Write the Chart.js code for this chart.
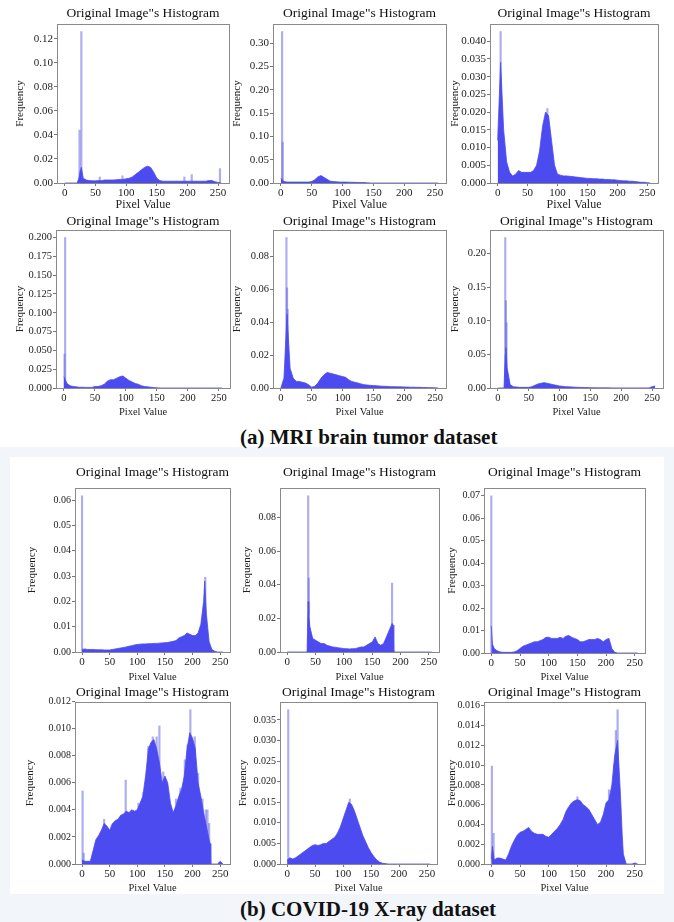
<!DOCTYPE html>
<html>
<head>
<meta charset="utf-8">
<script src="https://cdn.jsdelivr.net/npm/chart.js@4.4.1/dist/chart.umd.min.js"></script>
<style>
  body { margin: 0; width: 674px; height: 922px; position: relative; background: #fff; overflow: hidden;
         font-family: "Liberation Serif", "Times New Roman", serif; }
  canvas { position: absolute; }
  .cap { position: absolute; left: 240px; font-weight: bold; font-size: 21px; line-height: 24px; color: #111; white-space: nowrap; }
  #bgB { position: absolute; left: 0; top: 447px; width: 674px; height: 475px; background: #f2f5fa; }
  #inB { position: absolute; left: 10px; top: 457px; width: 654px; height: 437px; background: #fff; }
</style>
</head>
<body>
<div id="bgB"></div>
<div id="inB"></div>
<div class="cap" style="top:425px">(a) MRI brain tumor dataset</div>
<div class="cap" style="top:897px">(b) COVID-19 X-ray dataset</div>

<script>
// histogram bins (pixel value), read every 5 levels
const pixelBins = [0,5,10,15,20,25,30,35,40,45,50,55,60,65,70,75,80,85,90,95,
  100,105,110,115,120,125,130,135,140,145,150,155,160,165,170,175,180,185,190,195,
  200,205,210,215,220,225,230,235,240,245,250,255];
const xTicks = [0, 50, 100, 150, 200, 250];

// ---- (a) MRI brain tumor ----
const mri1Freq = [0,0,0,0,0,.010,.004,.0025,.002,.0018,
  .0018,.002,.002,.0025,.0025,.0025,.0025,.0028,.003,.003,
  .0035,.004,.005,.007,.009,.011,.013,.014,.013,.009,
  .004,.002,.0015,.0015,.0015,.0015,.0015,.0015,.0015,.0015,
  .0015,.0015,.0015,.0015,.0015,.0015,.0015,.002,.002,.001,.0005,0];
const mri1Extra = [[21,0],[23,.004],[27,.013]];
const mri1Spikes = [[24,.044],[27,.126],[57,.005],[94,.006],[195,.005],[207,.007],[253,.012]];
const mri1Ticks = ['0.00','0.02','0.04','0.06','0.08','0.10','0.12'];

const mri2Freq = [.010,.003,.002,.002,.002,.002,.002,.002,.002,.002,
  .003,.007,.013,.016,.012,.008,.004,.003,.0025,.002,
  .002,.002,.0018,.0015,.0015,.0012,.001,.001,.0005,0,
  0,0,0,0,0,0,0,0,0,0,0,0,0,0,0,0,0,0,0,0,0,0];
const mri2Extra = [];
const mri2Spikes = [[2,.325],[3,.088]];
const mri2Ticks = ['0.00','0.05','0.10','0.15','0.20','0.25','0.30'];

const mri3Freq = [.012,.034,.015,.006,.003,.002,.0025,.0035,.003,.003,
  .003,.003,.0035,.005,.009,.016,.020,.019,.012,.005,
  .0025,.0022,.002,.002,.0019,.0018,.0017,.0016,.0015,.0014,
  .0013,.0013,.0012,.0012,.0011,.0011,.001,.001,.0009,.0009,
  .0008,.0007,.0006,.0006,.0005,.0005,.0004,.0003,.0002,.0002,.0001,0];
const mri3Extra = [];
const mri3Spikes = [[5,.0427],[83,.021]];
const mri3Ticks = ['0.000','0.005','0.010','0.015','0.020','0.025','0.030','0.035','0.040'];

const mri4Freq = [.015,.006,.003,.002,.0015,.001,.001,.0008,.0008,.0008,
  .002,.002,.003,.005,.009,.011,.011,.013,.015,.016,
  .013,.010,.008,.006,.005,.003,.002,.0015,.001,.0005,
  .0002,0,0,0,0,0,0,0,0,0,0,0,0,0,0,0,0,0,0,0,0,0];
const mri4Extra = [];
const mri4Spikes = [[1,.045],[2,.2]];
const mri4Ticks = ['0.000','0.025','0.050','0.075','0.100','0.125','0.150','0.175','0.200'];

const mri5Freq = [0,.006,.045,.012,.006,.004,.004,.0035,.003,.002,
  .0005,.001,.003,.006,.008,.0095,.009,.0085,.008,.0075,
  .007,.0065,.005,.004,.0035,.003,.0025,.002,.0018,.0016,
  .0015,.0014,.0012,.0011,.001,.0009,.0008,.0008,.0007,.0007,
  .0006,.0006,.0005,.0005,.0004,.0004,.0003,.0003,.0002,.0002,.0001,0];
const mri5Extra = [];
const mri5Spikes = [[9,.0917],[10,.061],[11,.048]];
const mri5Ticks = ['0.00','0.02','0.04','0.06','0.08'];

const mri6Freq = [0,0,0,.03,.005,.002,.0015,.001,.001,.001,
  .001,.002,.004,.006,.007,.008,.007,.006,.005,.004,
  .003,.0025,.002,.0018,.0015,.0012,.001,.0009,.0008,.0006,
  .0005,.0004,.0003,.0003,.0002,.0002,.0002,.0001,.0001,.0001,
  .0001,.0001,.0001,.0001,.0001,.0001,.0001,.0001,.0001,.0001,.002,.003];
const mri6Extra = [[11,0],[12,.05],[13,.06]];
const mri6Spikes = [[12,.224],[13,.13],[14,.097]];
const mri6Ticks = ['0.00','0.05','0.10','0.15','0.20'];

// ---- (b) COVID-19 X-ray ----
const covid1Freq = [.001,.0012,.001,.001,.001,.0009,.0009,.0009,.0008,.0008,
  .0008,.001,.0012,.0014,.0016,.0018,.002,.0023,.0025,.0028,
  .003,.0031,.0032,.0032,.0033,.0033,.0034,.0034,.0035,.0036,
  .0037,.0038,.004,.0042,.0045,.0055,.006,.0065,.0075,.007,
  .0065,.0065,.0075,.011,.020,.015,.004,.001,.0003,0,0,0];
const covid1Extra = [[222,.028]];
const covid1Spikes = [[0,.0617],[223,.0295]];
const covid1Ticks = ['0.00','0.01','0.02','0.03','0.04','0.05','0.06'];

const covid2Freq = [0,0,0,0,0,0,0,0,.015,.008,
  .007,.006,.005,.005,.004,.0035,.003,.0028,.0025,.0023,
  .002,.002,.0018,.002,.002,.0025,.003,.003,.004,.005,
  .006,.009,.005,.004,.005,.009,.013,.017,0,0,
  0,0,0,0,0,0,0,0,0,0,0,0];
const covid2Extra = [[36,0],[37,.03],[38,.022],[187,.016],[188,0]];
const covid2Spikes = [[37,.093],[38,.044],[185,.041]];
const covid2Ticks = ['0.00','0.02','0.04','0.06','0.08'];

const covid3Freq = [.012,.002,.001,.0005,.0003,.0003,.0003,.0003,.0005,.001,
  .002,.003,.0035,.004,.0045,.005,.005,.0055,.006,.007,
  .007,.0065,.0065,.0065,.007,.0065,.0075,.0078,.007,.0065,
  .006,.005,.005,.0055,.006,.006,.006,.0065,.006,.005,
  .006,.0065,.002,.0003,0,0,0,0,0,0,0,0];
const covid3Extra = [[2,.004]];
const covid3Spikes = [[0,.070]];
const covid3Ticks = ['0.00','0.01','0.02','0.03','0.04','0.05','0.06','0.07'];

const covid4Freq = [.0003,.0002,.0002,.0002,.001,.0018,.0021,.0025,.003,.0028,
  .0025,.003,.0032,.0033,.0036,.0037,.0039,.0038,.004,.0039,
  .004,.0045,.005,.0065,.0085,.009,.0092,.0085,.0075,.006,
  .0065,.006,.0045,.0038,.0043,.005,.0055,.0065,.0085,.0097,
  .0093,.0085,.006,.005,.0038,.0028,.0018,0,0,0,.0002,0];
const covid4Extra = [[232,.0015],[233,0]];
const covid4Spikes = [[1,.0054],[3,.0008],[40,.0033],[79,.0062],[102,.0045],[111,.0053],[120,.0087],
  [128,.0094],[135,.0094],[140,.0102],[147,.0068],[157,.0047],[170,.0048],[178,.0056],[186,.0077],
  [191,.0088],[196,.0114],[204,.0094],[210,.0067],[218,.0048],[224,.004],[227,.004],[230,.003]];
const covid4Ticks = ['0.000','0.002','0.004','0.006','0.008','0.010','0.012'];

const covid5Freq = [.001,.0015,.0012,.0015,.002,.0025,.003,.0035,.004,.0045,
  .0047,.0045,.0047,.005,.005,.0055,.006,.0065,.0075,.009,
  .011,.013,.015,.0145,.013,.011,.009,.007,.0055,.004,
  .0028,.0018,.001,.0005,.0002,.0001,0,0,0,0,
  0,0,0,0,0,0,0,0,0,0,0,0];
const covid5Extra = [];
const covid5Spikes = [[2,.0375],[112,.0158]];
const covid5Ticks = ['0.000','0.005','0.010','0.015','0.020','0.025','0.030','0.035'];

const covid6Freq = [.0005,.0004,.0006,.0006,.0005,.0004,.001,.0018,.0024,.0029,
  .0032,.0033,.0035,.0037,.0033,.0031,.003,.003,.003,.0028,
  .0027,.003,.0033,.0036,.004,.0045,.0053,.0058,.0062,.0064,
  .0065,.0064,.006,.0058,.0055,.005,.0045,.004,.0042,.005,
  .0062,.0065,.008,.011,.0125,.007,.001,0,0,0,.0001,0];
const covid6Extra = [[2,.0018],[228,.003]];
const covid6Spikes = [[1,.0099],[4,.0031],[150,.0068],[205,.0075],[214,.010],[217,.0135],[220,.0156]];
const covid6Ticks = ['0.000','0.002','0.004','0.006','0.008','0.010','0.012','0.014','0.016'];

const panelTitle = 'Original Image"s Histogram';
const fillColor = '#4b4bf0';
const spikeColor = 'rgba(105,105,230,0.55)';
const serif = '"Liberation Serif", "Times New Roman", serif';

// font sizes per section row
const rowA1 = { xt: 11, yt: 11, lab: 12, freq: 11 };
const rowA2 = { xt: 10.5, yt: 10.5, lab: 10.5, freq: 11 };
const rowB  = { xt: 11, yt: 10, lab: 10.5, freq: 11 };

// box = [left, right, top, bottom] of the plot frame in page pixels
const panels = [
  { freq: mri1Freq, extra: mri1Extra, spikes: mri1Spikes, ticks: mri1Ticks, box: [57, 229, 24, 183], titleY: 13, freqX: 20, pixY: 205, f: rowA1 },
  { freq: mri2Freq, extra: mri2Extra, spikes: mri2Spikes, ticks: mri2Ticks, box: [273, 446, 24, 183], titleY: 13, freqX: 237, pixY: 205, f: rowA1 },
  { freq: mri3Freq, extra: mri3Extra, spikes: mri3Spikes, ticks: mri3Ticks, box: [490, 658, 24, 183], titleY: 13, freqX: 455, pixY: 205, f: rowA1 },
  { freq: mri4Freq, extra: mri4Extra, spikes: mri4Spikes, ticks: mri4Ticks, box: [56, 230, 230, 388], titleY: 221, freqX: 20, pixY: 412, f: rowA2 },
  { freq: mri5Freq, extra: mri5Extra, spikes: mri5Spikes, ticks: mri5Ticks, box: [273, 446, 230, 388], titleY: 221, freqX: 237, pixY: 412, f: rowA2 },
  { freq: mri6Freq, extra: mri6Extra, spikes: mri6Spikes, ticks: mri6Ticks, box: [490, 663, 230, 388], titleY: 221, freqX: 455, pixY: 412, f: rowA2 },
  { freq: covid1Freq, extra: covid1Extra, spikes: covid1Spikes, ticks: covid1Ticks, box: [75, 230, 488, 652], titleY: 472, freqX: 32, pixY: 677, f: rowB },
  { freq: covid2Freq, extra: covid2Extra, spikes: covid2Spikes, ticks: covid2Ticks, box: [280, 439, 488, 652], titleY: 472, freqX: 247, pixY: 677, f: rowB },
  { freq: covid3Freq, extra: covid3Extra, spikes: covid3Spikes, ticks: covid3Ticks, box: [484, 645, 488, 653], titleY: 472, freqX: 452, pixY: 677, f: rowB },
  { freq: covid4Freq, extra: covid4Extra, spikes: covid4Spikes, ticks: covid4Ticks, box: [75, 230, 702, 864], titleY: 692, freqX: 30, pixY: 888, f: rowB },
  { freq: covid5Freq, extra: covid5Extra, spikes: covid5Spikes, ticks: covid5Ticks, box: [280, 437, 702, 864], titleY: 692, freqX: 243, pixY: 888, f: rowB },
  { freq: covid6Freq, extra: covid6Extra, spikes: covid6Spikes, ticks: covid6Ticks, box: [484, 645, 702, 864], titleY: 692, freqX: 452, pixY: 888, f: rowB }
];

// draws the matplotlib style frame and the title above it
const panelFrame = {
  id: 'panelFrame',
  afterDraw(chart) {
    const { ctx, chartArea: a } = chart;
    const o = chart.options.plugins.panelFrame;
    ctx.save();
    ctx.strokeStyle = '#8a8a8a';
    ctx.lineWidth = 1;
    ctx.strokeRect(Math.round(a.left) + 0.5, Math.round(a.top) + 0.5,
      Math.round(a.right - a.left), Math.round(a.bottom - a.top));
    ctx.fillStyle = '#111';
    ctx.font = '13.5px ' + serif;
    ctx.textAlign = 'center';
    ctx.textBaseline = 'middle';
    ctx.fillText(o.text, (a.left + a.right) / 2, o.y);
    ctx.restore();
  }
};

panels.forEach(p => {
  const [bl, br, bt, bb] = p.box;
  const left = p.freqX - 6, top = p.titleY - 10, right = br + 6, bottom = p.pixY + 7;
  const cv = document.createElement('canvas');
  cv.width = right - left;
  cv.height = bottom - top;
  cv.style.left = left + 'px';
  cv.style.top = top + 'px';
  document.body.appendChild(cv);

  const area = pixelBins.map((x, i) => ({ x: x, y: p.freq[i] }))
    .concat(p.extra.map(e => ({ x: e[0], y: e[1] })))
    .sort((a, b) => a.x - b.x);
  const peak = Math.max(...p.freq, ...p.spikes.map(s => s[1]));

  new Chart(cv, {
    type: 'line',
    data: {
      datasets: [
        { type: 'bar', data: p.spikes.map(s => ({ x: s[0], y: s[1] })), backgroundColor: spikeColor,
          barThickness: 1.5, order: 2 },
        { data: area, fill: 'origin', backgroundColor: fillColor, borderColor: fillColor,
          borderWidth: 0.8, pointRadius: 0, tension: 0, order: 1 }
      ]
    },
    options: {
      responsive: false,
      animation: false,
      events: [],
      layout: { padding: { top: bt - top, right: right - br, left: 0, bottom: 0 } },
      plugins: {
        legend: { display: false },
        tooltip: { enabled: false },
        panelFrame: { text: panelTitle, y: p.titleY - top }
      },
      scales: {
        x: {
          type: 'linear', min: -12.75, max: 267.75, offset: false,
          afterBuildTicks: s => { s.ticks = xTicks.map(v => ({ value: v })); },
          afterFit: s => { s.height = bottom - bb; },
          ticks: { font: { family: serif, size: p.f.xt }, color: '#222', padding: 1, maxRotation: 0, autoSkip: false },
          grid: { display: true, drawOnChartArea: false, drawTicks: true, tickLength: 3, color: '#777', offset: false },
          border: { display: false },
          title: { display: true, text: 'Pixel Value', color: '#222', padding: 0, font: { family: serif, size: p.f.lab } }
        },
        y: {
          min: 0, max: peak * 1.05,
          afterBuildTicks: s => { s.ticks = p.ticks.map(t => ({ value: parseFloat(t) })); },
          afterFit: s => { s.width = bl - left; },
          ticks: { font: { family: serif, size: p.f.yt }, color: '#222', padding: 1, autoSkip: false,
            callback: (v, i) => p.ticks[i] },
          grid: { display: true, drawOnChartArea: false, drawTicks: true, tickLength: 3, color: '#777' },
          border: { display: false },
          title: { display: true, text: 'Frequency', color: '#222', padding: 0, font: { family: serif, size: p.f.freq } }
        }
      }
    },
    plugins: [panelFrame]
  });
});
</script>
</body>
</html>
